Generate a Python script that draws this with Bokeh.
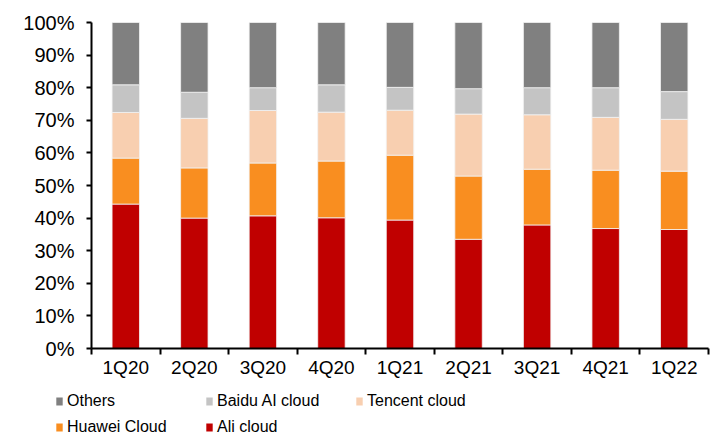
from bokeh.plotting import figure
from bokeh.layouts import column
from bokeh.models import (ColumnDataSource, FixedTicker, NumeralTickFormatter,
                          Legend, LegendItem, Range1d)
from bokeh.embed import file_html
from bokeh.resources import INLINE

# Quarterly cloud market share in China (percent of total)
quarters = ["1Q20", "2Q20", "3Q20", "4Q20", "1Q21", "2Q21", "3Q21", "4Q21", "1Q22"]
ali = [44.3, 40.0, 40.7, 40.1, 39.4, 33.5, 37.9, 36.8, 36.5]
huawei = [14.1, 15.4, 16.2, 17.4, 19.9, 19.4, 17.1, 17.9, 17.9]
tencent = [14.0, 15.2, 16.1, 15.0, 13.8, 19.0, 16.7, 16.2, 15.9]
baidu = [8.5, 8.0, 7.0, 8.4, 7.0, 7.8, 8.3, 9.1, 8.5]
others = [19.1, 21.4, 20.0, 19.1, 19.9, 20.3, 20.0, 20.0, 21.2]

series = ["Ali cloud", "Huawei Cloud", "Tencent cloud", "Baidu AI cloud", "Others"]
colors = ["#C00000", "#F98E20", "#F8CFB0", "#C4C4C4", "#808080"]
values = [ali, huawei, tencent, baidu, others]

FONT = "Liberation Sans"

xs = list(range(1, len(quarters) + 1))
data = {"x": xs}
for name, vals in zip(series, values):
    data[name] = [v / 100 for v in vals]
source = ColumnDataSource(data)

p = figure(width=717, height=380, output_backend="svg", toolbar_location=None,
           x_range=Range1d(0.5, len(quarters) + 0.5), y_range=Range1d(0, 1),
           min_border_left=91, min_border_right=9, min_border_top=22,
           min_border_bottom=31)
p.outline_line_color = None
p.grid.grid_line_color = None
p.frame_align = False

p.vbar_stack(series, x="x", width=0.4, source=source,
             color=colors, line_color="#F2F2F2", line_width=0.8)

# y axis: percentages
p.yaxis.ticker = FixedTicker(ticks=[i / 10 for i in range(11)])
p.yaxis.formatter = NumeralTickFormatter(format="0%")
p.yaxis.axis_line_width = 2
p.yaxis.axis_line_color = "black"
p.yaxis.major_tick_line_color = "black"
p.yaxis.major_tick_line_width = 2
p.yaxis.major_tick_out = 5
p.yaxis.major_tick_in = 0
p.yaxis.minor_tick_line_color = None
p.yaxis.major_label_text_font = FONT
p.yaxis.major_label_text_font_size = "20px"
p.yaxis.major_label_text_color = "black"
p.yaxis.major_label_standoff = 12

# x axis: quarter labels centred on bars, separators between categories
p.xaxis.ticker = FixedTicker(ticks=xs, minor_ticks=[x + 0.5 for x in range(0, len(quarters) + 1)])
p.xaxis.major_label_overrides = {x: q for x, q in zip(xs, quarters)}
p.xaxis.axis_line_width = 2
p.xaxis.axis_line_color = "black"
p.xaxis.major_tick_line_color = None
p.xaxis.major_tick_out = 0
p.xaxis.major_tick_in = 0
p.xaxis.minor_tick_line_color = "black"
p.xaxis.minor_tick_line_width = 2
p.xaxis.minor_tick_out = 6
p.xaxis.minor_tick_in = 0
p.xaxis.major_label_text_font = FONT
p.xaxis.major_label_text_font_size = "19px"
p.xaxis.major_label_text_color = "black"
p.xaxis.major_label_standoff = 2

# legend strip below the chart; its stacked bars sit outside the visible range,
# so only the legend swatches and labels show
leg = figure(width=717, height=57, output_backend="svg", toolbar_location=None,
             x_range=Range1d(0.5, len(quarters) + 0.5), y_range=Range1d(2, 3),
             x_axis_location=None, y_axis_location=None, min_border=0)
leg.outline_line_color = None
leg.grid.grid_line_color = None
leg.frame_align = False

swatches = leg.vbar_stack(series, x="x", width=0.4, source=source,
                          color=colors, line_color=None)
by_name = dict(zip(series, swatches))

# grid is filled column by column: rows read Others / Baidu / Tencent, Huawei / Ali
legend_order = ["Others", "Huawei Cloud", "Baidu AI cloud", "Ali cloud", "Tencent cloud"]
items = [LegendItem(label=name, renderers=[by_name[name]]) for name in legend_order]
legend = Legend(items=items, ncols=3, location=(55, 0),
                glyph_width=8, glyph_height=10, label_standoff=4,
                label_width=132, spacing=6, padding=0, margin=0,
                label_text_font=FONT, label_text_font_size="16px",
                label_text_color="black", label_height=20,
                border_line_color=None, background_fill_alpha=0)
leg.add_layout(legend, "center")

layout = column(p, leg, spacing=0)
open("out.html", "w").write(file_html(layout, INLINE))
